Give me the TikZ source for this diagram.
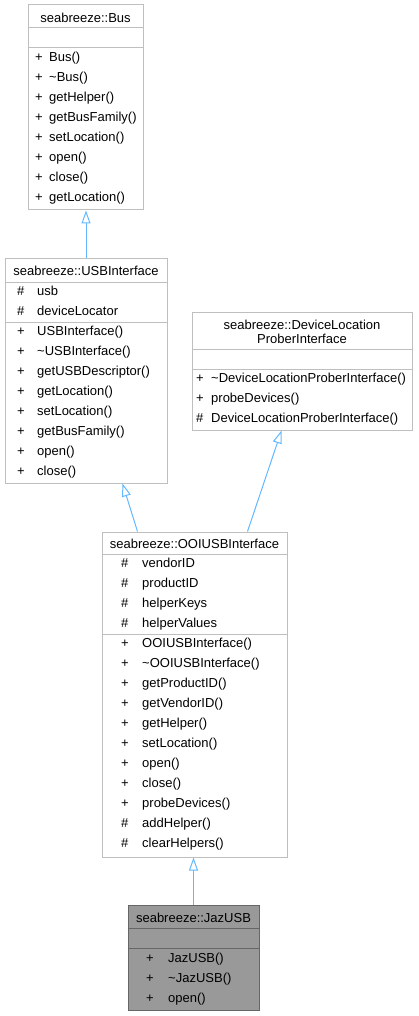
\documentclass[tikz,border=0pt]{standalone}
\usepackage{fontspec}
\setmainfont{Liberation Sans}
\usetikzlibrary{arrows.meta}
\definecolor{edgeblue}{HTML}{63B8FF}
\definecolor{boxline}{HTML}{BFBFBF}
\definecolor{focusfill}{HTML}{999999}
\definecolor{focusline}{HTML}{666666}
\tikzset{
  classbox/.style={
    rectangle,
    draw=boxline,
    fill=white,
    line width=1pt,
    inner sep=0pt
  },
  focusbox/.style={
    classbox,
    draw=focusline,
    fill=focusfill
  },
  divider/.style={draw=boxline, line width=1pt},
  focusdivider/.style={draw=focusline, line width=1pt},
  classname/.style={
    font=\fontsize{13}{14}\selectfont,
    align=center,
    inner sep=0pt
  },
  member/.style={
    font=\fontsize{13}{14}\selectfont,
    anchor=west,
    inner sep=0pt,
    text height=12.5pt,
    text depth=2.8pt
  },
  inherit/.style={-{Triangle[open, length=13pt, width=9pt]}, draw=edgeblue, line width=1pt}
}

\begin{document}
\begin{tikzpicture}[x=1pt,y=-1pt]
\useasboundingbox (0,0) rectangle (418,1016);

% class boxes
\node[classbox, minimum width=115pt, minimum height=205pt] (bus) at (85.5,107.5) {};
\node[classbox, minimum width=162pt, minimum height=225pt] (usbif) at (86,370.5) {};
\node[classbox, minimum width=220pt, minimum height=118pt] (prober) at (302,371) {};
\node[classbox, minimum width=185pt, minimum height=325pt] (ooiusb) at (194.5,694.5) {};
\node[focusbox, minimum width=131pt, minimum height=105pt] (jazusb) at (193.5,957.5) {};

% section lines
\draw[divider] (bus.west |- 0,28) -- (bus.east |- 0,28);
\draw[divider] (bus.west |- 0,48) -- (bus.east |- 0,48);
\draw[divider] (usbif.west |- 0,282) -- (usbif.east |- 0,282);
\draw[divider] (usbif.west |- 0,322) -- (usbif.east |- 0,322);
\draw[divider] (prober.west |- 0,349) -- (prober.east |- 0,349);
\draw[divider] (prober.west |- 0,369) -- (prober.east |- 0,369);
\draw[divider] (ooiusb.west |- 0,554) -- (ooiusb.east |- 0,554);
\draw[divider] (ooiusb.west |- 0,634) -- (ooiusb.east |- 0,634);
\draw[focusdivider] (jazusb.west |- 0,928) -- (jazusb.east |- 0,928);
\draw[focusdivider] (jazusb.west |- 0,948) -- (jazusb.east |- 0,948);

% class names
\node[classname] (bus-name) at (85.5,17.5) {seabreeze::Bus};
\node[classname] (usbif-name) at (86,271) {seabreeze::USBInterface};
\node[classname] (prober-name) at (302,331.5) {seabreeze::DeviceLocation\\ProberInterface};
\node[classname] (ooiusb-name) at (194.5,544) {seabreeze::OOIUSBInterface};
\node[classname] (jazusb-name) at (193.5,917.5) {seabreeze::JazUSB};

% members
\foreach \vis/\name [count=\i] in {+/Bus(), +/\textasciitilde Bus(), +/getHelper(), +/getBusFamily(),
    +/setLocation(), +/open(), +/close(), +/getLocation()} {
  \node[member] (bus-v\i) at (35,{37+20*\i}) {\vis};
  \node[member] (bus-m\i) at (49,{37+20*\i}) {\name};
}
\foreach \vis/\name [count=\i] in {\#/usb, \#/deviceLocator} {
  \node[member] (usbif-av\i) at (17,{271+20*\i}) {\vis};
  \node[member] (usbif-a\i) at (37,{271+20*\i}) {\name};
}
\foreach \vis/\name [count=\i] in {+/USBInterface(), +/\textasciitilde USBInterface(), +/getUSBDescriptor(),
    +/getLocation(), +/setLocation(), +/getBusFamily(), +/open(), +/close()} {
  \node[member] (usbif-v\i) at (17,{311+20*\i}) {\vis};
  \node[member] (usbif-m\i) at (37,{311+20*\i}) {\name};
}
\foreach \vis/\name [count=\i] in {+/\textasciitilde DeviceLocationProberInterface(), +/probeDevices(),
    \#/DeviceLocationProberInterface()} {
  \node[member] (prober-v\i) at (196,{358+20*\i}) {\vis};
  \node[member] (prober-m\i) at (211,{358+20*\i}) {\name};
}
\foreach \vis/\name [count=\i] in {\#/vendorID, \#/productID, \#/helperKeys, \#/helperValues} {
  \node[member] (ooiusb-av\i) at (121,{543+20*\i}) {\vis};
  \node[member] (ooiusb-a\i) at (142,{543+20*\i}) {\name};
}
\foreach \vis/\name [count=\i] in {+/OOIUSBInterface(), +/\textasciitilde OOIUSBInterface(), +/getProductID(),
    +/getVendorID(), +/getHelper(), +/setLocation(), +/open(), +/close(), +/probeDevices(),
    \#/addHelper(), \#/clearHelpers()} {
  \node[member] (ooiusb-v\i) at (121,{623+20*\i}) {\vis};
  \node[member] (ooiusb-m\i) at (142,{623+20*\i}) {\name};
}
\foreach \vis/\name [count=\i] in {+/JazUSB(), +/\textasciitilde JazUSB(), +/open()} {
  \node[member] (jazusb-v\i) at (146,{938+20*\i}) {\vis};
  \node[member] (jazusb-m\i) at (168,{938+20*\i}) {\name};
}

% inheritance
\draw[inherit] (usbif.north) -- (usbif.north |- bus.south);
\draw[inherit] ([xshift=36pt]ooiusb.north west) -- ([xshift=118pt]usbif.south west);
\draw[inherit] ([xshift=146pt]ooiusb.north west) -- ([xshift=90pt]prober.south west);
\draw[inherit] (jazusb.north) -- (jazusb.north |- ooiusb.south);
\end{tikzpicture}
\end{document}
